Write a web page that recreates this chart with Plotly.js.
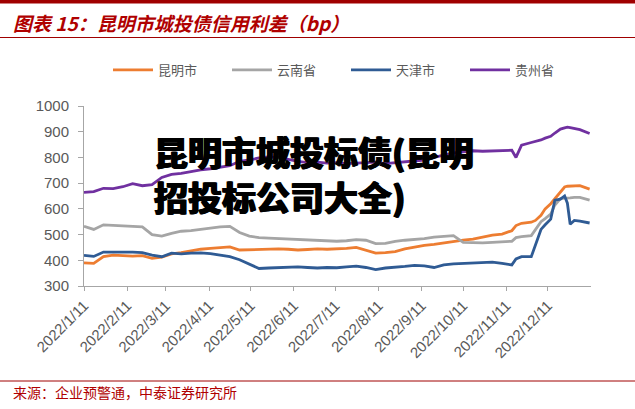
<!DOCTYPE html>
<html><head><meta charset="utf-8">
<script src="https://cdn.plot.ly/plotly-3.0.1.min.js"></script>
<style>html,body{margin:0;padding:0;background:#fff}#chart{width:635px;height:409px}</style>
</head><body><div id="chart"></div>
<script>
const dates = ['2022-01-11','2022-01-18','2022-01-25','2022-02-01','2022-02-08','2022-02-15','2022-02-22','2022-03-01','2022-03-08','2022-03-15','2022-03-22','2022-03-29','2022-04-05','2022-04-12','2022-04-19','2022-04-26','2022-05-03','2022-05-10','2022-05-17','2022-05-24','2022-05-31','2022-06-07','2022-06-14','2022-06-21','2022-06-28','2022-07-05','2022-07-12','2022-07-19','2022-07-26','2022-08-02','2022-08-09','2022-08-16','2022-08-23','2022-08-30','2022-09-06','2022-09-13','2022-09-20','2022-09-27','2022-10-04','2022-10-11','2022-10-18','2022-10-25','2022-11-01','2022-11-08','2022-11-15','2022-11-18','2022-11-22','2022-11-29','2022-12-02','2022-12-06','2022-12-09','2022-12-13','2022-12-16','2022-12-20','2022-12-23','2022-12-25','2022-12-27','2022-12-30','2023-01-03','2023-01-10'];
const kunming = [390,388,414,420,418,416,418,408,412,425,430,436,443,446,448,452,440,441,443,443,444,443,440,442,444,443,444,446,450,440,428,430,434,444,452,458,462,468,474,478,482,490,498,502,515,535,544,548,555,575,600,620,640,668,685,688,688,690,690,677];
const yunnan = [532,520,538,536,534,533,530,500,494,505,513,515,520,525,530,532,508,494,488,486,484,482,480,478,476,476,474,476,480,478,465,466,474,478,480,484,490,494,496,470,468,468,470,472,474,488,492,496,520,550,562,580,615,640,642,642,643,645,645,634];
const tianjin = [419,415,432,433,432,432,430,420,414,428,425,428,429,426,420,414,402,384,368,370,371,371,374,372,370,372,371,374,377,372,364,370,372,376,380,378,372,382,386,388,388,390,393,388,382,405,414,414,460,520,538,560,634,638,650,622,540,555,552,545];
const guizhou = [664,667,680,679,686,698,690,694,722,734,738,745,752,756,762,768,785,790,798,802,800,792,785,780,782,778,780,776,778,780,782,776,780,784,786,790,800,810,818,822,826,824,826,826,828,800,848,858,862,868,875,882,895,910,915,918,916,912,908,893];
const seriesNames = ['昆明市','云南省','天津市','贵州省'];
const tickDates = ['2022-01-11','2022-02-11','2022-03-11','2022-04-11','2022-05-11','2022-06-11','2022-07-11','2022-08-11','2022-09-11','2022-10-11','2022-11-11','2022-12-11'];
const tickLabels = ['2022/1/11','2022/2/11','2022/3/11','2022/4/11','2022/5/11','2022/6/11','2022/7/11','2022/8/11','2022/9/11','2022/10/11','2022/11/11','2022/12/11'];

const colors = ['#ED7D31','#A5A5A5','#2F5B94','#7030A0'];
const values = [kunming, yunnan, tianjin, guizhou];
const traces = values.map((v,i)=>({
  type:'scatter', mode:'lines', x:dates, y:v, name:seriesNames[i],
  line:{color:colors[i], width:2.8}
}));

// pixel helpers for paper coordinates
const L=84, R=591, T=106, B=286;
const px = p => (p-L)/(R-L);
const py = p => (B-p)/(B-T);

const layout = {
  width:635, height:409,
  margin:{l:L, r:635-R, t:T, b:409-B, pad:0},
  paper_bgcolor:'#fff', plot_bgcolor:'#fff',
  showlegend:true,
  legend:{orientation:'h', x:px(108), xanchor:'left', y:py(70), yanchor:'middle',
    font:{family:'Noto Sans CJK SC', size:13, color:'#595959'},
    itemwidth:40, entrywidth:64, traceorder:'normal', bgcolor:'rgba(0,0,0,0)'},
  xaxis:{type:'date', range:['2022-01-11','2023-01-11'], tickvals:tickDates, ticktext:tickLabels,
    tickangle:-45, ticks:'outside', ticklen:4, tickcolor:'#A6A6A6', showline:true, linecolor:'#A6A6A6',
    linewidth:1, showgrid:false, zeroline:false,
    tickfont:{family:'Liberation Sans, Arial', size:15, color:'#595959'}},
  yaxis:{range:[300,1000], dtick:100, tick0:300, ticks:'outside', ticklen:5, tickcolor:'#A6A6A6',
    showline:true, linecolor:'#A6A6A6', linewidth:1, showgrid:false, zeroline:false,
    ticklabelstandoff:6,
    tickfont:{family:'Liberation Sans, Arial', size:15, color:'#595959'}},
  shapes:[
    {type:'rect', xref:'paper', yref:'paper', x0:px(0), x1:px(635), y0:py(0), y1:py(3.5), fillcolor:'#A00000', line:{width:0}},
    {type:'line', xref:'paper', yref:'paper', x0:px(0), x1:px(635), y0:py(37.5), y1:py(37.5), line:{color:'#A00000', width:1.2}},
    {type:'line', xref:'paper', yref:'paper', x0:px(0), x1:px(635), y0:py(381), y1:py(381), line:{color:'#A00000', width:1}}
  ],
  annotations:[
    {text:'图表 15：昆明市城投债信用利差（bp）', xref:'paper', yref:'paper', x:px(11), y:py(22), xanchor:'left', yanchor:'middle', showarrow:false,
     font:{family:'Noto Sans CJK SC', size:19, color:'#B00000', weight:'bold', style:'italic'}},
    {text:'来源：企业预警通，中泰证券研究所', xref:'paper', yref:'paper', x:px(11), y:py(392), xanchor:'left', yanchor:'middle', showarrow:false,
     font:{family:'Noto Sans CJK SC', size:14, color:'#B00000'}},
    {text:'昆明市城投标债(昆明', xref:'paper', yref:'paper', x:px(152), y:py(151), xanchor:'left', yanchor:'middle', showarrow:false,
     font:{family:'Noto Sans CJK SC', size:34, color:'#000', weight:900, shadow:'0.8px 0 0 #000, -0.8px 0 0 #000'}},
    {text:'招投标公司大全)', xref:'paper', yref:'paper', x:px(152), y:py(196), xanchor:'left', yanchor:'middle', showarrow:false,
     font:{family:'Noto Sans CJK SC', size:34, color:'#000', weight:900, shadow:'0.8px 0 0 #000, -0.8px 0 0 #000'}}
  ]
};
Plotly.newPlot('chart', traces, layout, {displayModeBar:false, staticPlot:true});
</script></body></html>
